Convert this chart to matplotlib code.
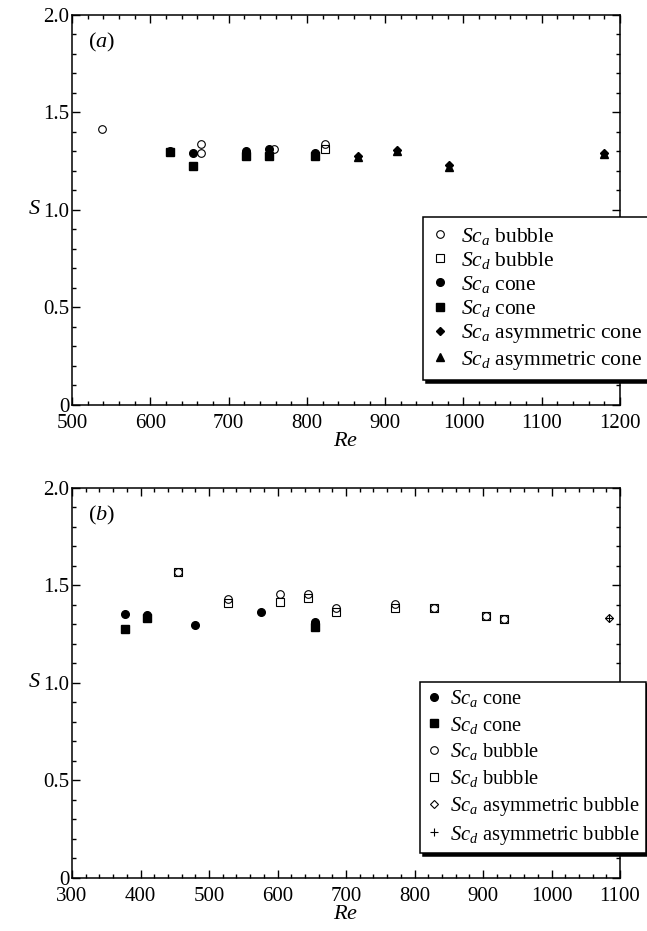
import numpy as np
import matplotlib
matplotlib.use("Agg")
import matplotlib.pyplot as plt
from matplotlib.ticker import MultipleLocator, FuncFormatter

plt.rcParams['font.family'] = ['Liberation Serif', 'DejaVu Serif']
plt.rcParams['mathtext.fontset'] = 'custom'
plt.rcParams['mathtext.rm'] = 'Liberation Serif'
plt.rcParams['mathtext.it'] = 'Liberation Serif:italic'

# panel (a)
re_a_bub_ca = [538, 665, 665, 758, 823]
s_a_bub_ca = [1.415, 1.337, 1.294, 1.313, 1.337]
re_a_bub_cd = [823]
s_a_bub_cd = [1.31]
re_a_cone = [625, 655, 722, 752, 811]
s_a_cone_ca = [1.30, 1.291, 1.30, 1.311, 1.29]
s_a_cone_cd = [1.296, 1.227, 1.275, 1.275, 1.275]
re_a_asym = [865, 915, 981, 1180]
s_a_asym_ca = [1.275, 1.307, 1.228, 1.292]
s_a_asym_cd = [1.27, 1.30, 1.222, 1.287]

# panel (b)
re_b_cone_ca = [377, 409, 480, 576, 654, 654]
s_b_cone_ca = [1.351, 1.348, 1.296, 1.363, 1.312, 1.30]
re_b_cone_cd = [377, 409, 654]
s_b_cone_cd = [1.278, 1.333, 1.285]
re_b_bub = [455, 528, 604, 645, 685, 771, 829, 904, 930]
s_b_bub_ca = [1.57, 1.428, 1.457, 1.454, 1.386, 1.406, 1.382, 1.343, 1.330]
s_b_bub_cd = [1.57, 1.411, 1.416, 1.437, 1.363, 1.386, 1.382, 1.343, 1.330]
re_b_asym = [1084]
s_b_asym_ca = [1.334]
s_b_asym_cd = [1.334]


def style_axes(ax, xmin, xmax, label):
    ax.set_xlim(xmin, xmax)
    ax.set_ylim(0, 2.0)
    ax.xaxis.set_major_locator(MultipleLocator(100))
    ax.xaxis.set_minor_locator(MultipleLocator(20))
    ax.yaxis.set_major_locator(MultipleLocator(0.5))
    ax.yaxis.set_minor_locator(MultipleLocator(0.1))
    ax.yaxis.set_major_formatter(FuncFormatter(lambda v, p: '0' if v == 0 else '%.1f' % v))
    ax.tick_params(which='both', direction='in', top=True, right=True, labelsize=15)
    ax.tick_params(axis='x', pad=6.5)
    ax.tick_params(axis='y', pad=2)
    ax.tick_params(which='major', length=6, width=1)
    ax.tick_params(which='minor', length=3, width=1)
    for sp in ax.spines.values():
        sp.set_linewidth(1.1)
    ax.set_xlabel('$Re$', fontsize=16, labelpad=-1)
    ax.set_ylabel('$S$', fontsize=16, rotation=0, va='center')
    ax.yaxis.set_label_coords(-0.068, 0.5)
    ax.text(0.03, 0.93, label, transform=ax.transAxes, fontsize=16, va='center')


def add_legend(ax, anchor, size, bpad, tpad, lspace):
    leg = ax.legend(loc='upper left', bbox_to_anchor=anchor, fontsize=size,
                    frameon=True, fancybox=False, edgecolor='black', framealpha=1,
                    shadow={'facecolor': 'black', 'edgecolor': 'black', 'alpha': 1},
                    handlelength=0.8, handletextpad=tpad, labelspacing=lspace,
                    borderpad=bpad, borderaxespad=0)
    leg.get_frame().set_linewidth(1.1)
    return leg


fig = plt.figure(figsize=(6.47, 9.31), dpi=100)
ax1 = fig.add_axes([0.1113, 0.565, 0.847, 0.419])
ax2 = fig.add_axes([0.1113, 0.057, 0.847, 0.419])

ms = 5.5
mew = 0.8

ax1.plot(re_a_bub_ca, s_a_bub_ca, 'o', mfc='none', mec='k', mew=mew, ms=ms, ls='none', label='$Sc_a$ bubble')
ax1.plot(re_a_bub_cd, s_a_bub_cd, 's', mfc='none', mec='k', mew=mew, ms=ms, ls='none', label='$Sc_d$ bubble')
ax1.plot(re_a_cone, s_a_cone_ca, 'o', color='k', ms=ms, ls='none', label='$Sc_a$ cone')
ax1.plot(re_a_cone, s_a_cone_cd, 's', color='k', ms=ms, ls='none', label='$Sc_d$ cone')
ax1.plot(re_a_asym, s_a_asym_ca, 'D', color='k', ms=4.5, ls='none', label='$Sc_a$ asymmetric cone')
ax1.plot(re_a_asym, s_a_asym_cd, '^', color='k', ms=5.5, ls='none', label='$Sc_d$ asymmetric cone')
style_axes(ax1, 500, 1200, '$(a)$')
add_legend(ax1, (0.64, 0.482), 15.5, 0.4, 0.6, 0.15)

ax2.plot(re_b_cone_ca, s_b_cone_ca, 'o', color='k', ms=ms, ls='none', label='$Sc_a$ cone')
ax2.plot(re_b_cone_cd, s_b_cone_cd, 's', color='k', ms=ms, ls='none', label='$Sc_d$ cone')
ax2.plot(re_b_bub, s_b_bub_ca, 'o', mfc='none', mec='k', mew=mew, ms=ms, ls='none', label='$Sc_a$ bubble')
ax2.plot(re_b_bub, s_b_bub_cd, 's', mfc='none', mec='k', mew=mew, ms=ms, ls='none', label='$Sc_d$ bubble')
ax2.plot(re_b_asym, s_b_asym_ca, 'D', mfc='none', mec='k', mew=mew, ms=4.5, ls='none', label='$Sc_a$ asymmetric bubble')
ax2.plot(re_b_asym, s_b_asym_cd, '+', color='k', mew=mew, ms=ms, ls='none', label='$Sc_d$ asymmetric bubble')
style_axes(ax2, 300, 1100, '$(b)$')
add_legend(ax2, (0.635, 0.503), 14.8, 0.3, 0.35, 0.28)

fig.savefig('out.png', dpi=100)
